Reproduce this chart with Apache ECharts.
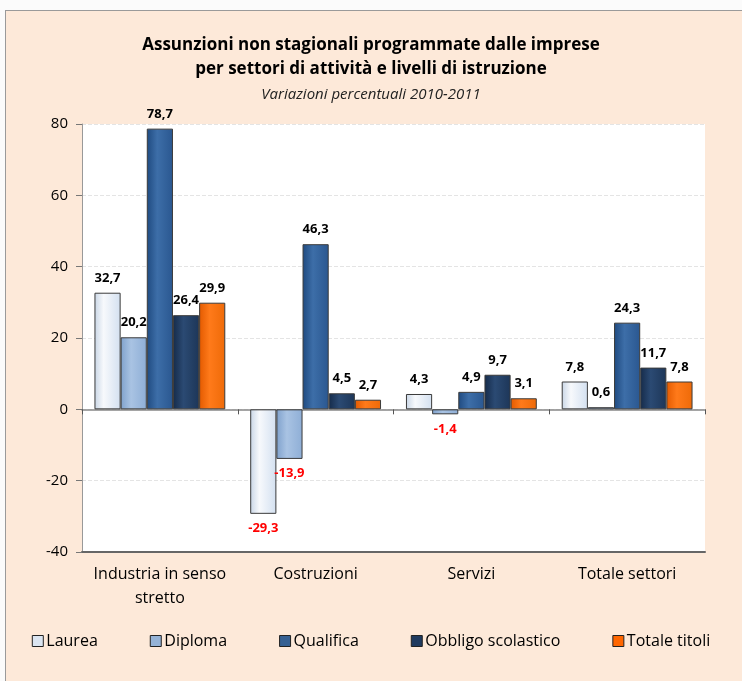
<!DOCTYPE html>
<html><head><meta charset="utf-8">
<script src="https://cdn.jsdelivr.net/npm/echarts@6/dist/echarts.min.js"></script>
<style>
html,body{margin:0;padding:0;background:#fbfbfb;}
#bg{position:absolute;left:5px;top:10px;width:737px;height:671px;background:#fde9d9;border-left:1px solid #9a9a9a;border-top:1px solid #9a9a9a;box-sizing:border-box;}
#c{position:absolute;left:0;top:0;width:742px;height:681px;}
</style></head>
<body><div id="bg"></div><div id="c"></div>
<script>
const categories = ['Industria in senso\nstretto', 'Costruzioni', 'Servizi', 'Totale settori'];
const laurea = [32.7, -29.3, 4.3, 7.8];
const diploma = [20.2, -13.9, -1.4, 0.6];
const qualifica = [78.7, 46.3, 4.9, 24.3];
const obbligo = [26.4, 4.5, 9.7, 11.7];
const totale = [29.9, 2.7, 3.1, 7.8];
const seriesNames = ['Laurea', 'Diploma', 'Qualifica', 'Obbligo scolastico', 'Totale titoli'];
const yTicks = [-40, -20, 0, 20, 40, 60, 80];

const FONT = '"Comic Sans MS", "Open Sans", sans-serif';
const colors = [
  {type:'linear',x:0,y:0,x2:1,y2:0,colorStops:[{offset:0,color:'#c9d6e6'},{offset:0.35,color:'#f7f9fc'},{offset:1,color:'#d3e0f0'}]},
  {type:'linear',x:0,y:0,x2:1,y2:0,colorStops:[{offset:0,color:'#7fa1cc'},{offset:0.4,color:'#a9c3e3'},{offset:1,color:'#8eaed6'}]},
  {type:'linear',x:0,y:0,x2:1,y2:0,colorStops:[{offset:0,color:'#1f4a80'},{offset:0.4,color:'#3d6ea8'},{offset:1,color:'#2a5790'}]},
  {type:'linear',x:0,y:0,x2:1,y2:0,colorStops:[{offset:0,color:'#152b4a'},{offset:0.4,color:'#2b4a73'},{offset:1,color:'#1d3658'}]},
  {type:'linear',x:0,y:0,x2:1,y2:0,colorStops:[{offset:0,color:'#e35a00'},{offset:0.4,color:'#ff7a1a'},{offset:1,color:'#ee6a08'}]}
];
const legendColors = ['#dbe5f1','#95b3d7','#366092','#1f3a5f','#ff6600'];
const dataSets = [laurea, diploma, qualifica, obbligo, totale];

const fmt = v => String(v).replace('.', ',');

const chart = echarts.init(document.getElementById('c'));
chart.setOption({
  animation: false,
  backgroundColor: 'transparent',
  title: [
    {text: 'Assunzioni non stagionali programmate dalle imprese\nper settori di attività e livelli di istruzione',
     left: 'center', top: 28, textStyle: {fontFamily: FONT, fontSize: 17, fontWeight: 'bold', color: '#000', lineHeight: 24}},
    {text: 'Variazioni percentuali 2010-2011', left: 'center', top: 82,
     textStyle: {fontFamily: FONT, fontSize: 15, fontStyle: 'italic', fontWeight: 'normal', color: '#222'}}
  ],
  legend: {
    bottom: 27, left: 'center', itemWidth: 11, itemHeight: 11, itemGap: 52,
    textStyle: {fontFamily: FONT, fontSize: 16, color: '#000', padding: [0,0,0,-2]},
    data: seriesNames.map((n, i) => ({name: n, icon: 'rect', itemStyle: {color: legendColors[i], borderColor: '#222', borderWidth: 1}}))
  },
  grid: {left: 82, right: 37, top: 124, bottom: 129, backgroundColor: '#fff', show: true, borderWidth: 0},
  xAxis: [
    {type: 'category', data: categories, axisLine: {onZero: true, lineStyle: {color: '#888', width: 1.5}},
     axisTick: {show: true, length: 5, lineStyle: {color: '#555'}}, axisLabel: {show: false}},
    {type: 'category', data: categories, position: 'bottom', axisLine: {onZero: false, lineStyle: {color: '#666', width: 2}},
     axisTick: {show: false},
     axisLabel: {interval: 0, fontFamily: FONT, fontSize: 16, color: '#000', margin: 10, lineHeight: 24}}
  ],
  yAxis: {
    type: 'value', min: -40, max: 80, interval: 20,
    axisLine: {show: true, lineStyle: {color: '#999'}},
    axisTick: {show: true, length: 6, lineStyle: {color: '#777'}},
    axisLabel: {fontFamily: FONT, fontSize: 15, color: '#000', margin: 14,
      formatter: v => yTicks.includes(v) ? String(v) : ''},
    splitLine: {show: true, lineStyle: {color: '#e4e4e4', type: 'dashed'}}
  },
  series: dataSets.map((d, i) => ({
    name: seriesNames[i], type: 'bar', xAxisIndex: 0, barGap: '0%', barCategoryGap: '16%',
    itemStyle: {color: colors[i], borderColor: '#3a3a3a', borderWidth: 1},
    data: d.map(v => ({
      value: v,
      label: {show: true, position: v < 0 ? 'bottom' : 'top', distance: 8,
        color: v < 0 ? '#ff0000' : '#000', fontFamily: FONT, fontWeight: 'bold', fontSize: 13,
        formatter: p => fmt(p.value)}
    }))
  }))
});
</script></body></html>
